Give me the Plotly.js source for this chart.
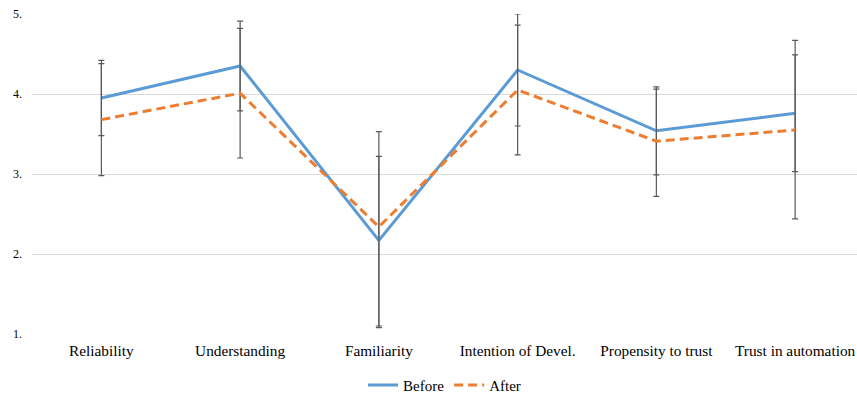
<!DOCTYPE html>
<html><head><meta charset="utf-8">
<script src="https://cdn.plot.ly/plotly-3.0.1.min.js"></script>
<style>html,body{margin:0;padding:0;background:#fff}#chart{width:857px;height:394px}</style>
</head><body><div id="chart"></div>
<script>
const categories = ["Reliability","Understanding","Familiarity","Intention of Devel.","Propensity to trust","Trust in automation"];
const before = [3.95, 4.35, 2.17, 4.30, 3.54, 3.76];
const beforeErrPlus = [0.47, 0.56, 1.05, 0.70, 0.55, 0.73];
const beforeErrMinus = [0.47, 0.56, 1.07, 0.70, 0.55, 0.73];
const after = [3.68, 4.01, 2.34, 4.05, 3.41, 3.55];
const afterErrPlus = [0.70, 0.81, 1.19, 0.81, 0.65, 1.12];
const afterErrMinus = [0.70, 0.81, 1.26, 0.81, 0.69, 1.11];
const yTickVals = [1,2,3,4,5];
const yTickText = ["1.","2.","3.","4.","5."];

const errStyle = {color:'#595959', thickness:1.2, width:3};
const traces = [
  {x:categories, y:before, name:'Before', type:'scatter', mode:'lines',
   line:{color:'#5B9BD5', width:3},
   error_y:Object.assign({type:'data', symmetric:false, array:beforeErrPlus, arrayminus:beforeErrMinus}, errStyle)},
  {x:categories, y:after, name:'After', type:'scatter', mode:'lines',
   line:{color:'#ED7D31', width:3, dash:'9px,5px'},
   error_y:Object.assign({type:'data', symmetric:false, array:afterErrPlus, arrayminus:afterErrMinus}, errStyle)}
];
const layout = {
  width:857, height:394,
  margin:{l:32, r:0, t:14, b:60, autoexpand:false},
  paper_bgcolor:'#fff', plot_bgcolor:'#fff',
  font:{family:'"Liberation Serif", "Times New Roman", serif', color:'#000', size:15},
  showlegend:true,
  legend:{orientation:'h', x:0.5, xanchor:'center', y:-0.16, yanchor:'middle', font:{size:15}, traceorder:'normal'},
  xaxis:{type:'category', range:[-0.5, 5.446], showgrid:false, zeroline:false, showline:false,
         ticks:'', tickfont:{size:15.3}, ticklabelstandoff:6},
  yaxis:{range:[1,5], tickvals:yTickVals, ticktext:yTickText, showgrid:true, gridcolor:'#D9D9D9', gridwidth:1,
         zeroline:false, showline:false, ticks:'', tickfont:{size:12}, ticklabelstandoff:9}
};
Plotly.newPlot('chart', traces, layout, {displayModeBar:false, staticPlot:true});
</script></body></html>
